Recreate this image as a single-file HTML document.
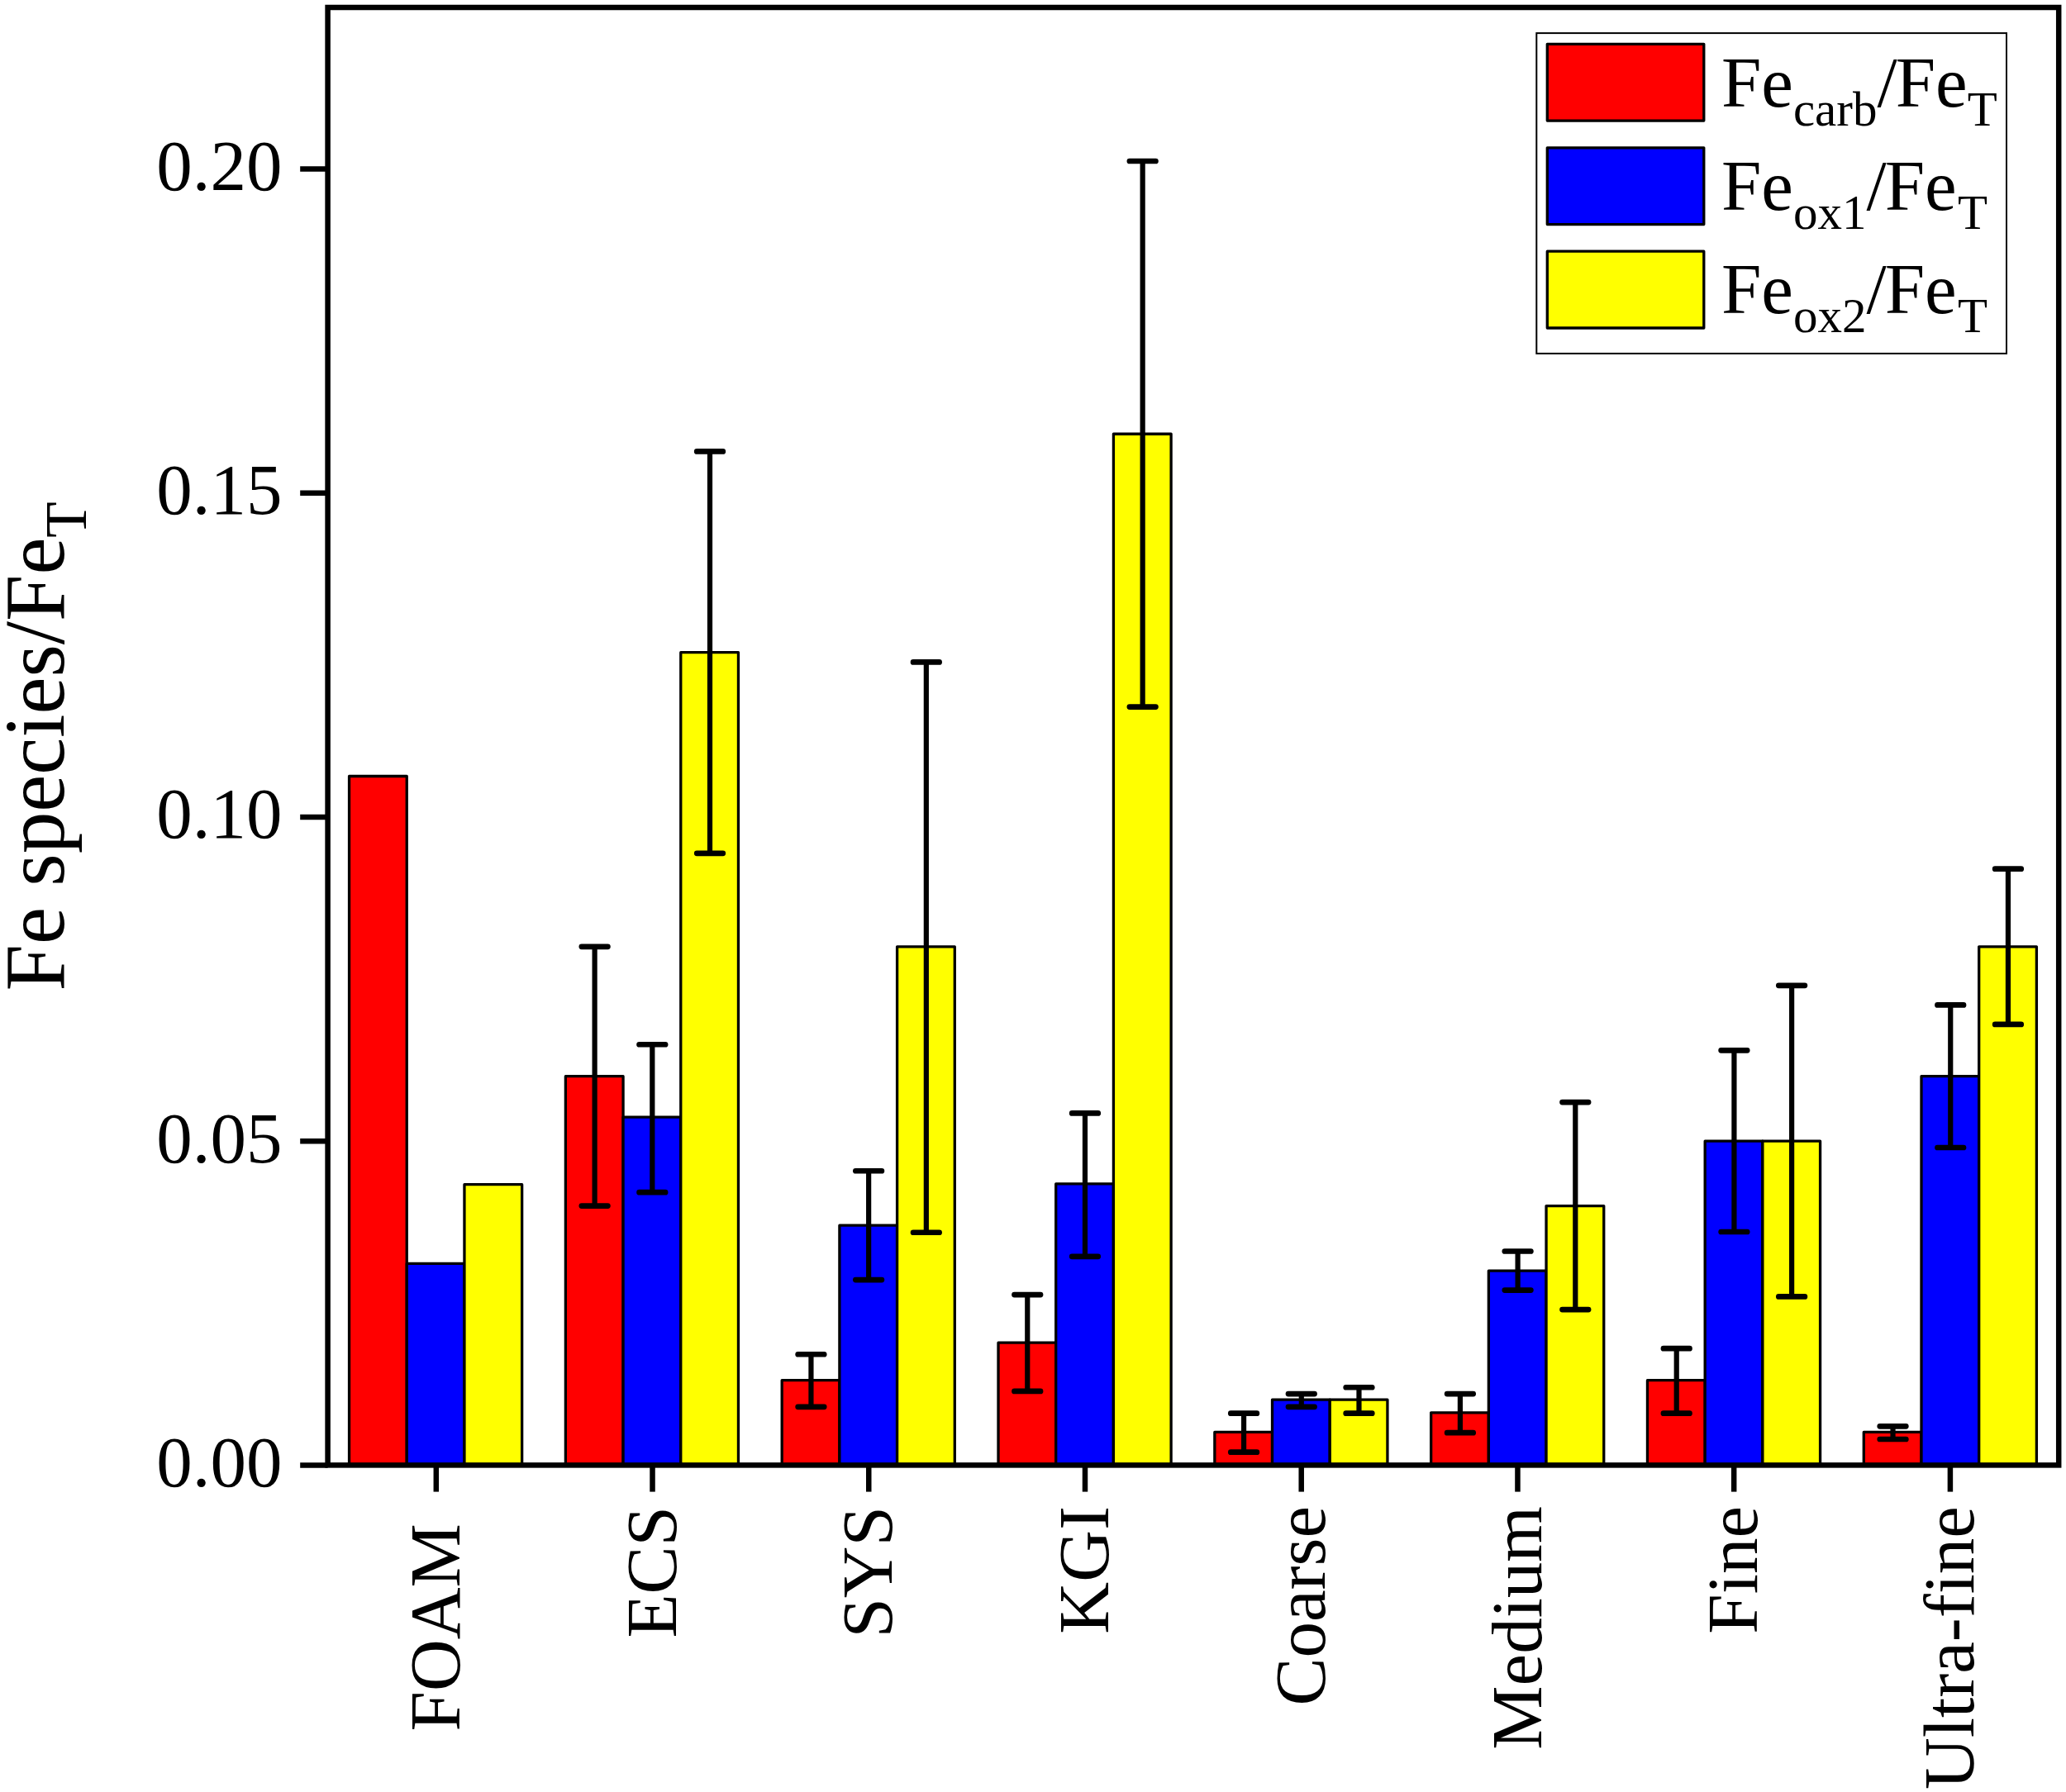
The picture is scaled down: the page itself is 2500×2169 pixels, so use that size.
<!DOCTYPE html>
<html lang="en"><head><meta charset="utf-8"><title>Fe species/FeT</title>
<style>
html,body{margin:0;padding:0;background:#fff;}
body{width:2500px;height:2169px;overflow:hidden;}
svg{display:block;}
text{font-family:"Liberation Serif","Times New Roman",Times,serif;fill:#000;font-variant-ligatures:none;font-kerning:none;}
.bar{stroke:#000;stroke-width:3.3;stroke-linejoin:round;}
.err{stroke:#000;stroke-width:6.7;stroke-linecap:round;fill:none;}
.errv{stroke:#000;stroke-width:6.2;stroke-linecap:butt;fill:none;}
.ax{stroke:#000;stroke-width:6.50;fill:none;stroke-linecap:butt;}
</style></head><body>
<svg width="2500" height="2169" viewBox="0 0 2500 2169">
<rect x="0" y="0" width="2500" height="2169" fill="#ffffff"/>
<g id="bars">
<rect class="bar" x="422.55" y="939.48" width="69.70" height="833.92" fill="#ff0000"/>
<rect class="bar" x="492.25" y="1529.42" width="69.70" height="243.98" fill="#0000ff"/>
<rect class="bar" x="561.95" y="1433.71" width="69.70" height="339.69" fill="#ffff00"/>
<rect class="bar" x="684.37" y="1302.70" width="69.70" height="470.70" fill="#ff0000"/>
<rect class="bar" x="754.07" y="1352.12" width="69.70" height="421.28" fill="#0000ff"/>
<rect class="bar" x="823.77" y="789.64" width="69.70" height="983.76" fill="#ffff00"/>
<rect class="bar" x="946.19" y="1670.63" width="69.70" height="102.77" fill="#ff0000"/>
<rect class="bar" x="1015.89" y="1483.14" width="69.70" height="290.26" fill="#0000ff"/>
<rect class="bar" x="1085.59" y="1145.80" width="69.70" height="627.60" fill="#ffff00"/>
<rect class="bar" x="1208.01" y="1625.13" width="69.70" height="148.27" fill="#ff0000"/>
<rect class="bar" x="1277.71" y="1432.93" width="69.70" height="340.47" fill="#0000ff"/>
<rect class="bar" x="1347.41" y="525.26" width="69.70" height="1248.14" fill="#ffff00"/>
<rect class="bar" x="1469.83" y="1733.39" width="69.70" height="40.01" fill="#ff0000"/>
<rect class="bar" x="1539.53" y="1694.17" width="69.70" height="79.23" fill="#0000ff"/>
<rect class="bar" x="1609.23" y="1694.17" width="69.70" height="79.23" fill="#ffff00"/>
<rect class="bar" x="1731.65" y="1709.86" width="69.70" height="63.54" fill="#ff0000"/>
<rect class="bar" x="1801.35" y="1538.05" width="69.70" height="235.35" fill="#0000ff"/>
<rect class="bar" x="1871.05" y="1459.60" width="69.70" height="313.80" fill="#ffff00"/>
<rect class="bar" x="1993.47" y="1670.63" width="69.70" height="102.77" fill="#ff0000"/>
<rect class="bar" x="2063.17" y="1381.15" width="69.70" height="392.25" fill="#0000ff"/>
<rect class="bar" x="2132.87" y="1381.15" width="69.70" height="392.25" fill="#ffff00"/>
<rect class="bar" x="2255.29" y="1733.39" width="69.70" height="40.01" fill="#ff0000"/>
<rect class="bar" x="2324.99" y="1302.70" width="69.70" height="470.70" fill="#0000ff"/>
<rect class="bar" x="2394.69" y="1145.80" width="69.70" height="627.60" fill="#ffff00"/>
</g>
<g id="errors">
<path class="errv" d="M719.62 1145.80V1459.60"/>
<path class="err" d="M703.82 1145.80H735.42M703.82 1459.60H735.42"/>
<path class="errv" d="M789.32 1264.26V1443.13"/>
<path class="err" d="M773.52 1264.26H805.12M773.52 1443.13H805.12"/>
<path class="errv" d="M859.02 546.44V1032.83"/>
<path class="err" d="M843.22 546.44H874.82M843.22 1032.83H874.82"/>
<path class="errv" d="M981.44 1639.25V1702.80"/>
<path class="err" d="M965.64 1639.25H997.24M965.64 1702.80H997.24"/>
<path class="errv" d="M1051.14 1417.24V1549.03"/>
<path class="err" d="M1035.34 1417.24H1066.94M1035.34 1549.03H1066.94"/>
<path class="errv" d="M1120.84 801.40V1491.76"/>
<path class="err" d="M1105.04 801.40H1136.64M1105.04 1491.76H1136.64"/>
<path class="errv" d="M1243.26 1567.08V1683.97"/>
<path class="err" d="M1227.46 1567.08H1259.06M1227.46 1683.97H1259.06"/>
<path class="errv" d="M1312.96 1347.42V1520.79"/>
<path class="err" d="M1297.16 1347.42H1328.76M1297.16 1520.79H1328.76"/>
<path class="errv" d="M1382.66 194.99V855.54"/>
<path class="err" d="M1366.86 194.99H1398.46M1366.86 855.54H1398.46"/>
<path class="errv" d="M1505.08 1710.64V1757.71"/>
<path class="err" d="M1489.28 1710.64H1520.88M1489.28 1757.71H1520.88"/>
<path class="errv" d="M1574.78 1687.11V1702.80"/>
<path class="err" d="M1558.98 1687.11H1590.58M1558.98 1702.80H1590.58"/>
<path class="errv" d="M1644.48 1679.26V1710.64"/>
<path class="err" d="M1628.68 1679.26H1660.28M1628.68 1710.64H1660.28"/>
<path class="errv" d="M1766.90 1687.11V1734.18"/>
<path class="err" d="M1751.10 1687.11H1782.70M1751.10 1734.18H1782.70"/>
<path class="errv" d="M1836.60 1514.52V1561.59"/>
<path class="err" d="M1820.80 1514.52H1852.40M1820.80 1561.59H1852.40"/>
<path class="errv" d="M1906.30 1334.08V1585.12"/>
<path class="err" d="M1890.50 1334.08H1922.10M1890.50 1585.12H1922.10"/>
<path class="errv" d="M2028.72 1632.19V1710.64"/>
<path class="err" d="M2012.92 1632.19H2044.52M2012.92 1710.64H2044.52"/>
<path class="errv" d="M2098.42 1271.32V1490.98"/>
<path class="err" d="M2082.62 1271.32H2114.22M2082.62 1490.98H2114.22"/>
<path class="errv" d="M2168.12 1192.87V1569.43"/>
<path class="err" d="M2152.32 1192.87H2183.92M2152.32 1569.43H2183.92"/>
<path class="errv" d="M2290.54 1726.33V1742.02"/>
<path class="err" d="M2274.74 1726.33H2306.34M2274.74 1742.02H2306.34"/>
<path class="errv" d="M2360.24 1216.41V1389.00"/>
<path class="err" d="M2344.44 1216.41H2376.04M2344.44 1389.00H2376.04"/>
<path class="errv" d="M2429.94 1051.66V1239.94"/>
<path class="err" d="M2414.14 1051.66H2445.74M2414.14 1239.94H2445.74"/>
</g>
<g id="axes">
<rect class="ax" x="396.60" y="9.00" width="2094.60" height="1764.40"/>
<path class="ax" d="M363.20 1773.40H396.60"/>
<path class="ax" d="M363.20 1381.15H396.60"/>
<path class="ax" d="M363.20 988.90H396.60"/>
<path class="ax" d="M363.20 596.65H396.60"/>
<path class="ax" d="M363.20 204.40H396.60"/>
<path class="ax" d="M527.80 1773.40V1805.60"/>
<path class="ax" d="M789.53 1773.40V1805.60"/>
<path class="ax" d="M1051.26 1773.40V1805.60"/>
<path class="ax" d="M1312.99 1773.40V1805.60"/>
<path class="ax" d="M1574.72 1773.40V1805.60"/>
<path class="ax" d="M1836.45 1773.40V1805.60"/>
<path class="ax" d="M2098.18 1773.40V1805.60"/>
<path class="ax" d="M2359.91 1773.40V1805.60"/>
</g>
<g id="ylabels" font-size="87.0" text-anchor="end">
<text x="341.5" y="1798.8">0.00</text>
<text x="341.5" y="1406.6">0.05</text>
<text x="341.5" y="1014.3">0.10</text>
<text x="341.5" y="622.0">0.15</text>
<text x="341.5" y="229.8">0.20</text>
</g>
<g id="xlabels" font-size="87.0" text-anchor="end">
<text transform="translate(555.9 1844.1) rotate(-90)" x="0" y="0">FOAM</text>
<text transform="translate(817.6 1823.0) rotate(-90)" x="0" y="0">ECS</text>
<text transform="translate(1079.4 1823.0) rotate(-90)" x="0" y="0">SYS</text>
<text transform="translate(1341.1 1823.0) rotate(-90)" x="0" y="0">KGI</text>
<text transform="translate(1602.8 1823.0) rotate(-90)" x="0" y="0">Coarse</text>
<text transform="translate(1864.5 1823.0) rotate(-90)" x="0" y="0">Medium</text>
<text transform="translate(2126.3 1823.0) rotate(-90)" x="0" y="0">Fine</text>
<text transform="translate(2388.0 1823.0) rotate(-90)" x="0" y="0">Ultra-fine</text>
</g>
<text id="ytitle" transform="translate(77.0 1199.4) rotate(-90) scale(0.984 1)" font-size="103.0">Fe species/Fe<tspan font-size="72.1" dy="27.2">T</tspan></text>
<g id="legend">
<rect x="1859.3" y="40.1" width="568.7" height="387.8" fill="#fff" stroke="#000" stroke-width="2"/>
<rect class="bar" x="1872.3" y="53.3" width="189.5" height="92.8" fill="#ff0000"/>
<text x="2082.9" y="128.5" font-size="87.0">Fe<tspan font-size="59.0" dy="23.3">carb</tspan><tspan dy="-23.3">/</tspan><tspan dx="-1.9">Fe</tspan><tspan font-size="59.0" dx="0.0" dy="23.3">T</tspan></text>
<rect class="bar" x="1872.3" y="178.8" width="189.5" height="92.8" fill="#0000ff"/>
<text x="2082.9" y="253.5" font-size="87.0">Fe<tspan font-size="59.0" dy="23.3">ox1</tspan><tspan dy="-23.3">/</tspan><tspan dx="-1.9">Fe</tspan><tspan font-size="59.0" dx="1.3" dy="23.3">T</tspan></text>
<rect class="bar" x="1872.3" y="304.2" width="189.5" height="92.8" fill="#ffff00"/>
<text x="2082.9" y="378.9" font-size="87.0">Fe<tspan font-size="59.0" dy="23.3">ox2</tspan><tspan dy="-23.3">/</tspan><tspan dx="-1.9">Fe</tspan><tspan font-size="59.0" dx="1.3" dy="23.3">T</tspan></text>
</g>
</svg>
</body></html>
